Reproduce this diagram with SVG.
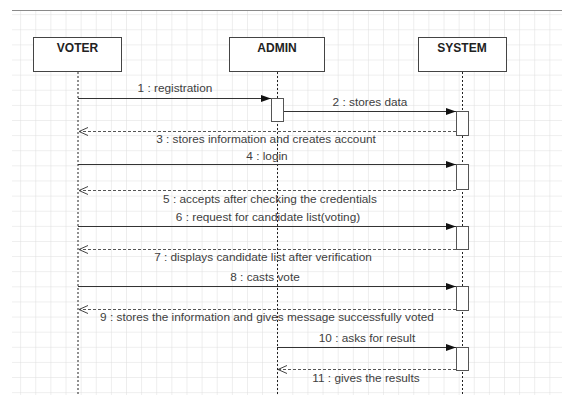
<svg xmlns="http://www.w3.org/2000/svg" width="562" height="406" viewBox="0 0 562 406">
<defs>
<pattern id="grid" x="6" y="0" width="15.12" height="15.12" patternUnits="userSpaceOnUse">
<path d="M15.12,0 V15.12 M0,15.12 H15.12" fill="none" stroke="#dedede" stroke-width="1"/>
</pattern>
<marker id="filled" markerWidth="11" markerHeight="8" refX="10" refY="3.5" orient="auto" markerUnits="userSpaceOnUse">
<path d="M0,0 L10,3.5 L0,7 z" fill="#111"/>
</marker>
<marker id="open" markerWidth="12" markerHeight="10" refX="10" refY="4.5" orient="auto" markerUnits="userSpaceOnUse">
<path d="M1,0.5 L10,4.5 L1,8.5" fill="none" stroke="#444" stroke-width="1"/>
</marker>
</defs>
<style>
.box{fill:#fff;stroke:#444;stroke-width:1}
.head{font-family:"Liberation Sans",Arial,sans-serif;font-size:12px;font-weight:bold;fill:#222;text-anchor:middle}
.life{stroke:#222;stroke-width:1;stroke-dasharray:2,2;fill:none}
.act{fill:#fff;stroke:#555;stroke-width:1}
.msg{stroke:#333;stroke-width:1;fill:none}
.ret{stroke:#555;stroke-width:1;stroke-dasharray:3,2;fill:none}
.lbl{font-family:"Liberation Sans",Arial,sans-serif;font-size:11.8px;fill:#404040;text-anchor:middle}
</style>
<rect x="0" y="0" width="562" height="406" fill="#fff"/>
<rect x="12" y="10" width="550" height="385" fill="url(#grid)"/>
<line x1="12" y1="10.5" x2="562" y2="10.5" stroke="#8a8a8a" stroke-width="1"/>

<g id="voter">
<rect class="box" x="33.5" y="37.5" width="88" height="34"/>
<text class="head" x="77.5" y="52">VOTER</text>
<line class="life" x1="78" y1="72" x2="78" y2="394"/>
</g>
<g id="admin">
<rect class="box" x="229.5" y="37.5" width="95" height="34"/>
<text class="head" x="277" y="52">ADMIN</text>
<line class="life" x1="277.5" y1="72" x2="277.5" y2="394"/>
<rect class="act" x="271.5" y="98.5" width="12" height="23"/>
</g>
<g id="system">
<rect class="box" x="418.5" y="37.5" width="88" height="34"/>
<text class="head" x="462" y="52">SYSTEM</text>
<line class="life" x1="462.5" y1="72" x2="462.5" y2="394"/>
<rect class="act" x="456.5" y="111.5" width="12" height="24"/>
<rect class="act" x="456.5" y="164.5" width="12" height="25"/>
<rect class="act" x="456.5" y="226.5" width="12" height="23"/>
<rect class="act" x="456.5" y="286.5" width="12" height="24"/>
<rect class="act" x="456.5" y="347.5" width="12" height="23"/>
</g>

<g id="connectors">
<line class="msg" x1="78" y1="98.5" x2="271" y2="98.5" marker-end="url(#filled)"/>
<text class="lbl" x="175" y="92">1 : registration</text>
<line class="msg" x1="284" y1="111.5" x2="456" y2="111.5" marker-end="url(#filled)"/>
<text class="lbl" x="370" y="106">2 : stores data</text>
<line class="ret" x1="456" y1="131.5" x2="79" y2="131.5" marker-end="url(#open)"/>
<text class="lbl" x="266" y="143">3 : stores information and creates account</text>
<line class="msg" x1="78" y1="164.5" x2="456" y2="164.5" marker-end="url(#filled)"/>
<text class="lbl" x="267" y="160">4 : login</text>
<line class="ret" x1="456" y1="190.5" x2="79" y2="190.5" marker-end="url(#open)"/>
<text class="lbl" x="270" y="203">5 : accepts after checking the credentials</text>
<line class="msg" x1="78" y1="226.5" x2="456" y2="226.5" marker-end="url(#filled)"/>
<text class="lbl" x="268" y="221">6 : request for candidate list(voting)</text>
<line class="ret" x1="456" y1="249.5" x2="79" y2="249.5" marker-end="url(#open)"/>
<text class="lbl" x="263" y="261">7 : displays candidate list after verification</text>
<line class="msg" x1="78" y1="286.5" x2="456" y2="286.5" marker-end="url(#filled)"/>
<text class="lbl" x="265" y="281">8 : casts vote</text>
<line class="ret" x1="456" y1="309.5" x2="79" y2="309.5" marker-end="url(#open)"/>
<text class="lbl" x="267" y="321">9 : stores the information and gives message successfully voted</text>
<line class="msg" x1="277" y1="347.5" x2="456" y2="347.5" marker-end="url(#filled)"/>
<text class="lbl" x="367" y="342">10 : asks for result</text>
<line class="ret" x1="456" y1="369.5" x2="278" y2="369.5" marker-end="url(#open)"/>
<text class="lbl" x="366" y="382">11 : gives the results</text>
</g>
</svg>
